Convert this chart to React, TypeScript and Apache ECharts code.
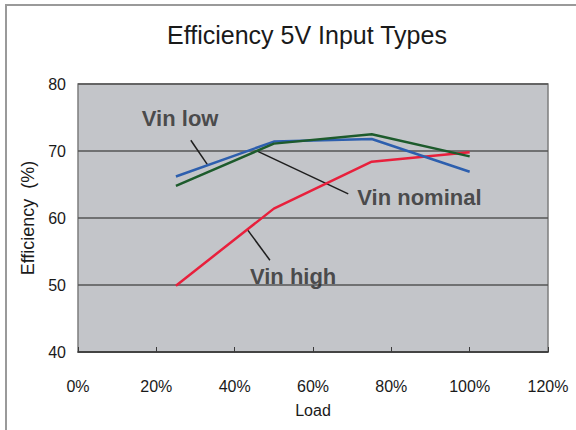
import React, { useEffect, useRef } from "react";
import * as echarts from "echarts";

const loads = [25, 50, 75, 100];
const vinLow = [66.2, 71.4, 71.8, 66.9];
const vinNominal = [64.8, 71.1, 72.5, 69.2];
const vinHigh = [49.9, 61.4, 68.4, 69.8];
const xTicks = [0, 20, 40, 60, 80, 100, 120];
const yTicks = [40, 50, 60, 70, 80];

// annotation texts and leader lines in data coordinates [load, efficiency]
const labelNames = ["Vin low", "Vin nominal", "Vin high"];
const labelPos = [
  [16.3, 74.9],
  [71.3, 63.0],
  [43.9, 51.3],
];
const leaders = [
  [[28.8, 71.6], [33.0, 68.0]],
  [[45.5, 70.05], [69.0, 63.6]],
  [[43.2, 58.3], [49.0, 53.7]],
];

const FONT = "'Liberation Sans', Arial, Helvetica, sans-serif";

export default function App() {
  const ref = useRef<HTMLDivElement>(null);
  useEffect(() => {
    if (!ref.current) return;
    const chart = echarts.init(ref.current, null, { renderer: "svg" });
    const pair = (ys: number[]) => loads.map((x, i) => [x, ys[i]]);
    const lineSeries = (name: string, ys: number[], color: string) => ({
      name,
      type: "line",
      data: pair(ys),
      showSymbol: false,
      symbol: "none",
      lineStyle: { color, width: 2.5 },
      silent: true,
    });
    chart.setOption({
      animation: false,
      backgroundColor: "#ffffff",
      textStyle: { fontFamily: FONT },
      title: {
        text: "Efficiency 5V Input Types",
        left: 302,
        top: 17,
        textAlign: "center",
        textStyle: { fontFamily: FONT, fontSize: 25, fontWeight: "normal", color: "#1a1a1a" },
      },
      grid: {
        left: 78,
        right: 28,
        top: 84,
        bottom: 78,
        show: true,
        backgroundColor: "#c3c5c9",
        borderColor: "#7d7d7d",
        borderWidth: 1.5,
      },
      xAxis: {
        type: "value",
        min: xTicks[0],
        max: xTicks[xTicks.length - 1],
        interval: 20,
        name: "Load",
        nameLocation: "middle",
        nameGap: 50,
        nameTextStyle: { fontFamily: FONT, fontSize: 16, color: "#1a1a1a" },
        axisLine: { show: true, lineStyle: { color: "#3a3a3a", width: 1.5 } },
        axisTick: { show: true, inside: true, length: 5, lineStyle: { color: "#3a3a3a" } },
        splitLine: { show: false },
        axisLabel: {
          formatter: "{value}%",
          margin: 26,
          fontFamily: FONT,
          fontSize: 16,
          color: "#1a1a1a",
        },
      },
      yAxis: {
        type: "value",
        min: yTicks[0],
        max: yTicks[yTicks.length - 1],
        interval: 10,
        name: "Efficiency  (%)",
        nameLocation: "middle",
        nameGap: 40,
        nameTextStyle: { fontFamily: FONT, fontSize: 18, color: "#1a1a1a" },
        axisLine: { show: false },
        axisTick: { show: false },
        splitLine: { show: true, lineStyle: { color: "#555555", width: 1.5 } },
        axisLabel: {
          margin: 12,
          fontFamily: FONT,
          fontSize: 16,
          color: "#1a1a1a",
          padding: [10, 0, 0, 0],
        },
      },
      graphic: [
        {
          type: "polyline",
          shape: { points: [[6, 430], [6, 5], [576, 5]] },
          style: { stroke: "#9a9a9a", lineWidth: 2, fill: "none" },
          silent: true,
        },
      ],
      series: [
        ...leaders.map((seg, i) => ({
          name: "leader" + i,
          type: "line",
          data: seg,
          symbol: "none",
          lineStyle: { color: "#1e1e1e", width: 1.5 },
          silent: true,
          z: 3,
        })),
        lineSeries("Vin high", vinHigh, "#e8203c"),
        lineSeries("Vin low", vinLow, "#2d5fae"),
        lineSeries("Vin nominal", vinNominal, "#1d5b2c"),
        {
          name: "labels",
          type: "scatter",
          symbolSize: 0,
          silent: true,
          data: labelPos.map((p, i) => ({ value: p, name: labelNames[i] })),
          label: {
            show: true,
            position: "right",
            distance: 0,
            formatter: (p: any) => p.name,
            fontFamily: FONT,
            fontSize: 22,
            fontWeight: "bold",
            color: "#2a2a2a",
          },
          z: 5,
        },
      ],
    });
    return () => chart.dispose();
  }, []);
  return (
    <div
      ref={ref}
      style={{ position: "fixed", left: 0, top: 0, width: 576, height: 430 }}
    />
  );
}
